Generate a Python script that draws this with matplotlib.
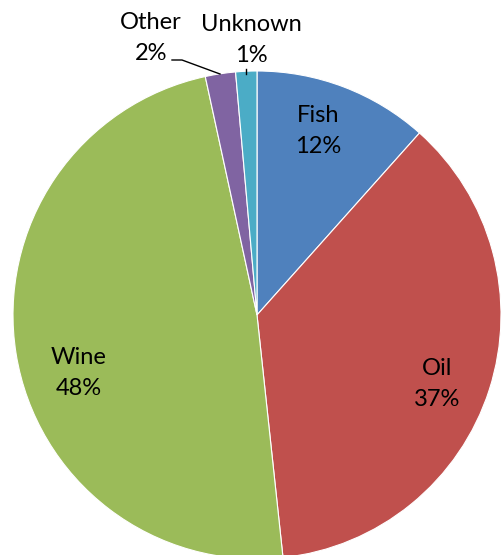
"""Cargo share pie chart."""
import matplotlib.pyplot as plt

categories = ["Fish", "Oil", "Wine", "Other", "Unknown"]
shares = [11.6, 36.7, 48.3, 2.0, 1.4]
colors = ["#4F81BD", "#C0504D", "#9BBB59", "#8064A2", "#4BACC6"]

# label anchor points in pixel coords (x right, y down)
label_xy = [(318, 131), (437, 384), (79, 373), (151, 38), (251, 40)]

W, H = 501, 555
fig = plt.figure(figsize=(W / 100, H / 100), dpi=100)
ax = fig.add_axes([0, 0, 1, 1])

cx, cy, r = 257, H - 315, 244
ax.pie(shares, colors=colors, startangle=90, counterclock=False,
       center=(cx, cy), radius=r, frame=True,
       wedgeprops={"edgecolor": "white", "linewidth": 0.8})
ax.set_xlim(0, W)
ax.set_ylim(0, H)
ax.set_aspect("equal")
ax.axis("off")

total = sum(shares)
for name, val, (lx, ly) in zip(categories, shares, label_xy):
    ax.text(lx, H - ly, f"{name}\n{val / total * 100:.0f}%", ha="center",
            va="center", fontsize=17, family="Lato", linespacing=1.6,
            color="black")

# leader lines for the two thin slices
ax.plot([172, 182, 220], [H - 60, H - 60, H - 74], color="black", lw=1)
ax.plot([246, 246], [H - 69, H - 74], color="black", lw=1)

fig.savefig("out.png", dpi=100)
